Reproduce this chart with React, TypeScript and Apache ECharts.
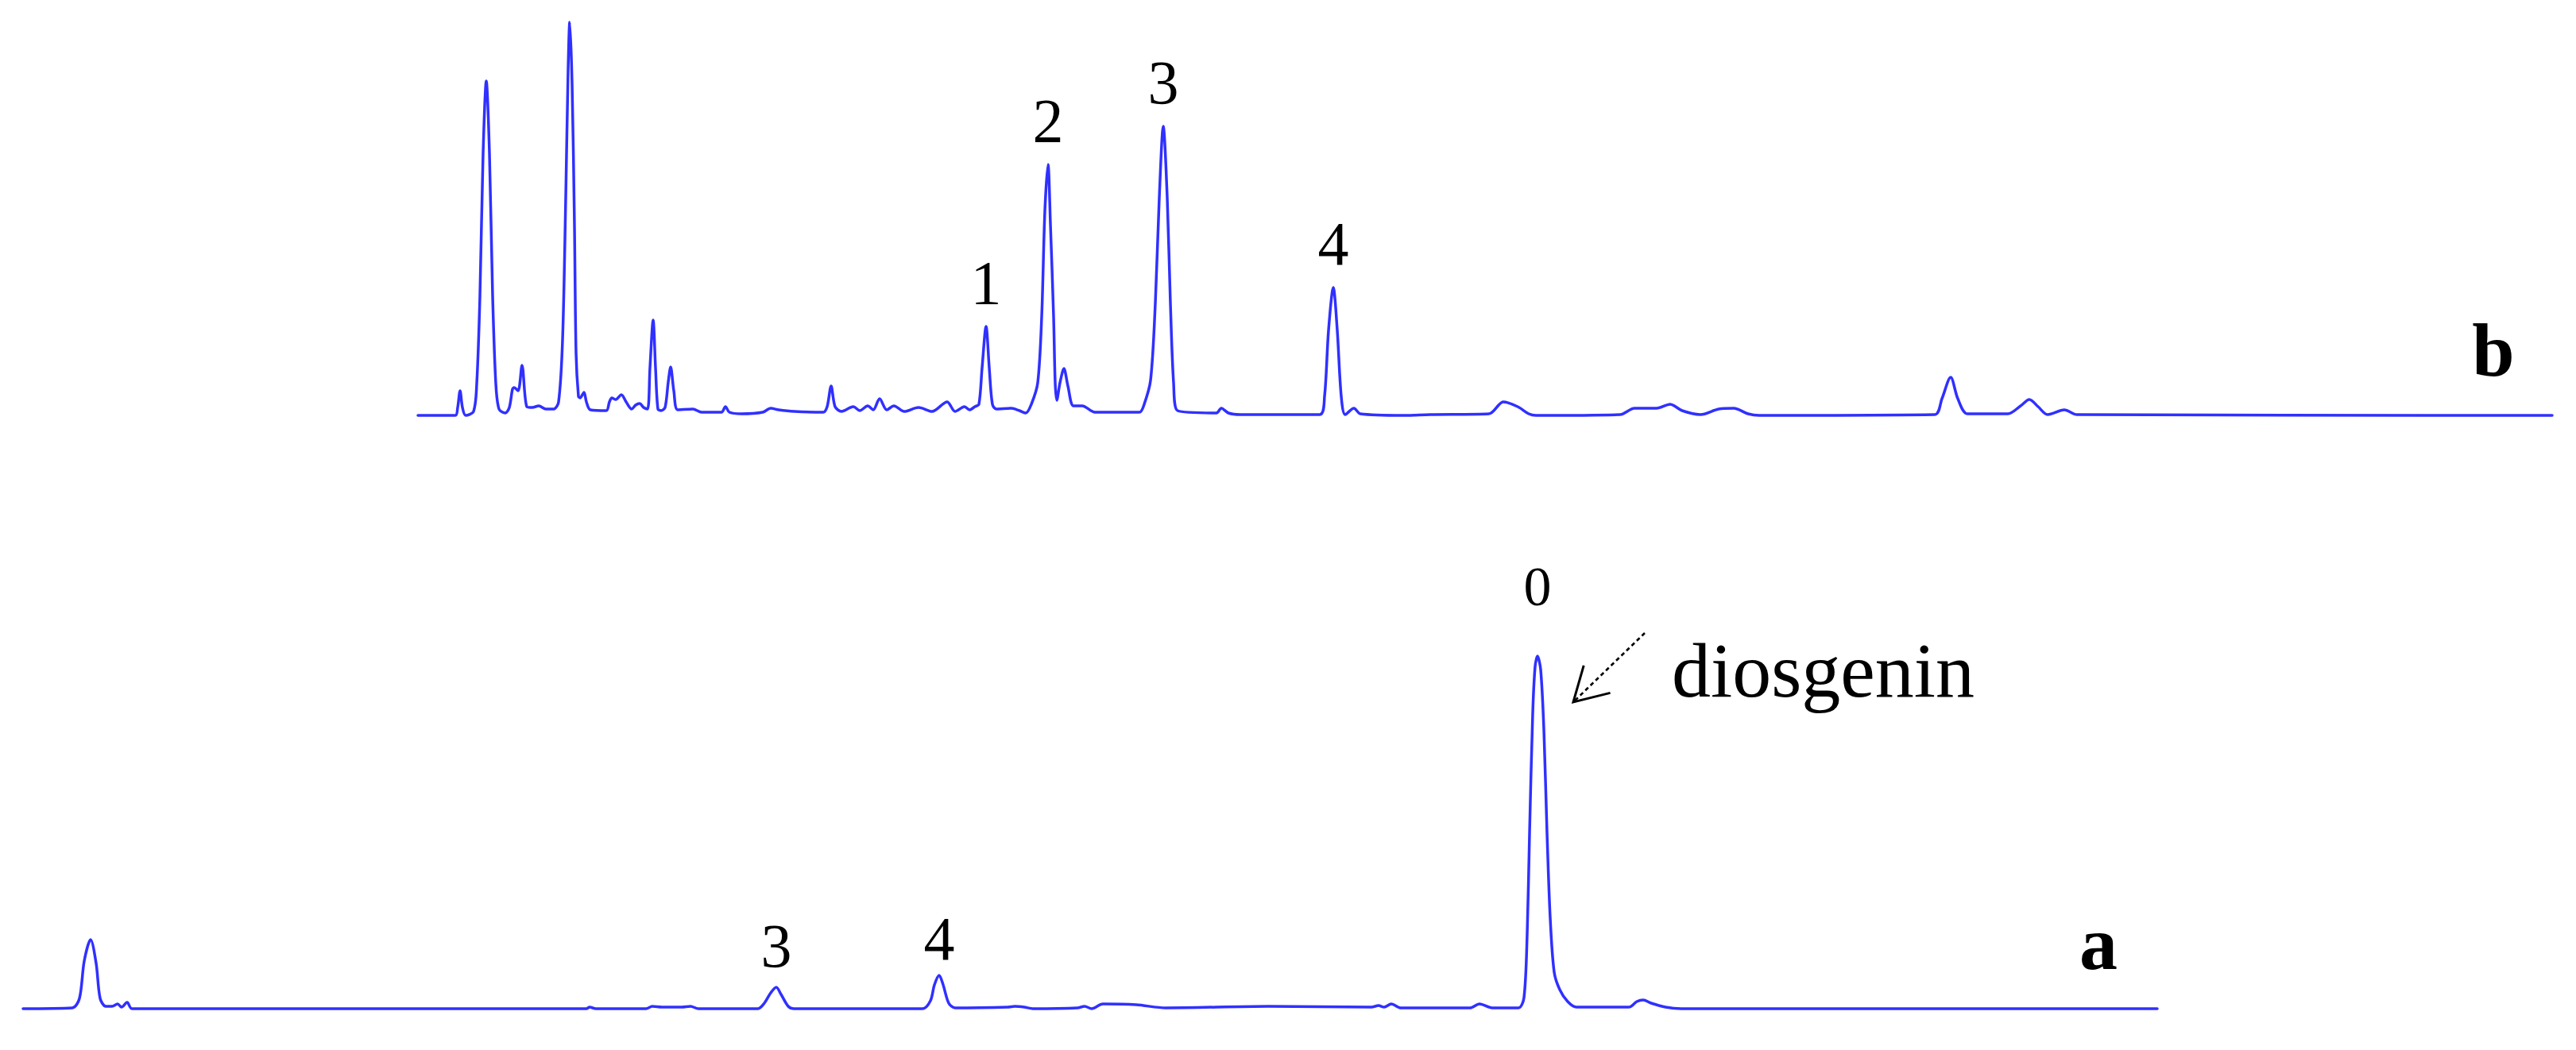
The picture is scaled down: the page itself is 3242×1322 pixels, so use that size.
import React, { useEffect, useRef } from 'react';
import * as echarts from 'echarts';

// Chromatogram b (sample extract): [retention time (min), signal (mAU)]
const traceB: [number, number][] = [
  [0, 0], [0.94, 0], [1.0, 2], [1.06, 6.2], [1.12, 2], [1.2, 0], [1.4, 1], [1.48, 8], [1.56, 30],
  [1.64, 66], [1.72, 84.2], [1.8, 66], [1.88, 30], [1.96, 8], [2.04, 1.6], [2.2, 0.6], [2.3, 2],
  [2.38, 6.6], [2.42, 7], [2.52, 6.2], [2.62, 12.6], [2.74, 2.2], [2.88, 2], [3.04, 2.4], [3.22, 1.6],
  [3.42, 1.6], [3.54, 3.4], [3.64, 19], [3.72, 54.8], [3.78, 87], [3.82, 99], [3.88, 83.4], [3.94, 47.6],
  [3.98, 15.6], [4.04, 4.8], [4.08, 4.4], [4.18, 5.8], [4.24, 3.4], [4.34, 1.4], [4.74, 1.2], [4.82, 3.4],
  [4.88, 4.4], [4.98, 4], [5.12, 5.2], [5.24, 3.4], [5.38, 1.6], [5.48, 2.6], [5.58, 3], [5.68, 2],
  [5.78, 1.6], [5.84, 12], [5.92, 24], [5.98, 12], [6.04, 1.6], [6.12, 1.2], [6.22, 2], [6.3, 8.4],
  [6.36, 12.2], [6.44, 6.2], [6.54, 1.4], [6.92, 1.6], [7.14, 0.8], [7.64, 0.8], [7.74, 2.2], [7.84, 0.8],
  [8.14, 0.4], [8.68, 0.8], [8.88, 1.8], [9.08, 1.4], [9.48, 1], [10.2, 0.8], [10.3, 2.2], [10.4, 7.4],
  [10.5, 2.2], [10.66, 1], [10.96, 2.2], [11.12, 1.2], [11.32, 2.4], [11.46, 1.4], [11.62, 4.2], [11.8, 1.4],
  [11.98, 2.4], [12.24, 1], [12.6, 2], [12.94, 1], [13.32, 3.4], [13.52, 1], [13.76, 2.2], [13.88, 1.4],
  [14.02, 2.2], [14.12, 2.8], [14.2, 12], [14.3, 22.4], [14.38, 12], [14.46, 2.8], [14.56, 1.6],
  [14.94, 1.8], [15.14, 1.2], [15.3, 0.6], [15.44, 2.8], [15.6, 8.2], [15.7, 24.8], [15.78, 51.4],
  [15.86, 63.2], [15.92, 48.2], [16.0, 24.8], [16.04, 8.2], [16.08, 3.8], [16.16, 8.2], [16.26, 11.8],
  [16.36, 7.4], [16.5, 2.4], [16.72, 2.4], [17.04, 0.8], [18.16, 0.8], [18.26, 2.2], [18.44, 8.8],
  [18.56, 28.2], [18.66, 54.8], [18.76, 72.8], [18.86, 54.8], [18.94, 28.2], [19.02, 8.2], [19.12, 1.2],
  [20.1, 0.6], [20.22, 1.8], [20.4, 0.6], [20.7, 0.2], [22.7, 0.2], [22.82, 4.8], [22.92, 21.4],
  [23.04, 32.2], [23.14, 21.4], [23.24, 4.8], [23.34, 0.2], [23.56, 1.8], [23.72, 0.4], [24.78, 0],
  [25.48, 0.2], [26.96, 0.4], [27.32, 3.4], [27.68, 2.2], [27.96, 0.4], [28.14, 0], [30.26, 0.2],
  [30.62, 1.8], [31.18, 1.8], [31.52, 2.8], [31.82, 1.2], [32.28, 0.2], [32.74, 1.6], [33.12, 1.8],
  [33.48, 0.4], [33.76, 0], [38.18, 0.2], [38.36, 4.2], [38.58, 9.6], [38.76, 4.2], [39.0, 0.4],
  [40.02, 0.4], [40.34, 2.4], [40.56, 4], [40.78, 2.2], [41.02, 0.2], [41.44, 1.4], [41.76, 0.2],
  [53.72, 0],
];

// Chromatogram a (diosgenin standard)
const traceA: [number, number][] = [
  [0, 0], [1.24, 0.2], [1.42, 2.6], [1.54, 12], [1.7, 17.4], [1.84, 11.4], [1.94, 2.6], [2.08, 0.6],
  [2.24, 0.6], [2.38, 1.2], [2.48, 0.4], [2.62, 1.6], [2.74, 0], [14.18, 0], [14.26, 0.4], [14.42, 0],
  [15.68, 0], [15.84, 0.6], [16.08, 0.4], [16.58, 0.4], [16.8, 0.6], [17.0, 0], [18.5, 0], [18.66, 1.4],
  [18.82, 4], [18.96, 5.4], [19.08, 3.6], [19.26, 0.6], [19.4, 0], [22.64, 0], [22.84, 2], [22.94, 6],
  [23.06, 8.4], [23.16, 6], [23.3, 1.4], [23.46, 0.2], [24.8, 0.4], [24.96, 0.6], [25.2, 0.4],
  [25.42, 0], [26.54, 0.2], [26.72, 0.6], [26.9, 0], [27.18, 1.2], [28.02, 1], [28.76, 0.2],
  [31.34, 0.6], [33.94, 0.4], [34.12, 0.8], [34.26, 0.4], [34.44, 1.2], [34.68, 0.2], [36.42, 0.2],
  [36.66, 1.2], [36.98, 0.2], [37.64, 0.2], [37.78, 2.8], [37.86, 18.8], [37.92, 44.2], [38.0, 74.4],
  [38.06, 86.2], [38.12, 88.8], [38.2, 85.4], [38.28, 70.4], [38.36, 44.2], [38.44, 22.8], [38.54, 9.2],
  [38.68, 4.8], [38.88, 1.8], [39.1, 0.4], [40.42, 0.4], [40.62, 1.8], [40.78, 2.2], [40.98, 1.4],
  [41.34, 0.4], [41.74, 0], [53.72, 0],
];

// Peak labels: [text, retention time, apex signal]
const peakLabelsB: [string, number, number][] = [
  ['1', 14.3, 22.4], ['2', 15.86, 63.2], ['3', 18.76, 72.8], ['4', 23.04, 32.2],
];
const peakLabelsA: [string, number, number][] = [
  ['3', 18.96, 5.4], ['4', 23.06, 8.4], ['0', 38.12, 88.8],
];
const traceNameB = 'b';
const traceNameA = 'a';
const compoundName = 'diosgenin';
// annotation anchors in data space (trace a)
const arrowTail: [number, number] = [40.82, 94.6];
const arrowTip: [number, number] = [39.02, 77.2];
const compoundTextAnchor: [number, number] = [41.5, 85.2];
const traceNamePos: [number, number] = [52.24, 0];

const T_MAX = 53.72;
const FONT = "'Liberation Serif', 'Times New Roman', Times, serif";
const LINE = '#3030ff';

export default function App() {
  const ref = useRef<HTMLDivElement>(null);
  useEffect(() => {
    document.body.style.margin = '0';
    const chart = echarts.init(ref.current!, undefined, { renderer: 'svg' });

    const labelOffset = (name: string, trace: 'a' | 'b') => {
      if (trace === 'b') return -56;
      if (name === '0') return -88;
      return name === '3' ? -53 : -47;
    };

    const mkMarks = (labels: [string, number, number][], trace: 'a' | 'b', letter: string) => ({
      symbol: 'circle',
      symbolSize: 1,
      silent: true,
      itemStyle: { color: 'rgba(0,0,0,0)' },
      label: {
        show: true,
        position: 'inside',
        color: '#000',
        fontFamily: FONT,
        fontSize: 78,
        formatter: '{b}',
      },
      data: [
        ...labels.map(([n, t, v]) => ({
          name: n,
          coord: [t, v],
          label: { offset: [0, labelOffset(n, trace)], fontSize: n === '0' ? 70 : 78 },
        })),
        {
          name: letter,
          coord: traceNamePos,
          label: { offset: [0, -83], fontSize: 96, fontWeight: 'bold' },
        },
      ],
    });

    const lineSeries = (idx: number, data: [number, number][], labels: [string, number, number][], tr: 'a' | 'b', letter: string) => ({
      type: 'line',
      xAxisIndex: idx,
      yAxisIndex: idx,
      data,
      showSymbol: false,
      smooth: 0.3,
      clip: false,
      lineStyle: { color: LINE, width: 3.5, join: 'round', cap: 'round' },
      markPoint: mkMarks(labels, tr, letter),
    });

    const option: any = {
      animation: false,
      backgroundColor: '#ffffff',
      grid: [
        { left: 526, width: 2686, top: 23, height: 500 },
        { left: 29, width: 2686, top: 770, height: 500 },
      ],
      xAxis: [
        { type: 'value', gridIndex: 0, min: 0, max: T_MAX, show: false },
        { type: 'value', gridIndex: 1, min: 0, max: T_MAX, show: false },
      ],
      yAxis: [
        { type: 'value', gridIndex: 0, min: 0, max: 100, show: false },
        { type: 'value', gridIndex: 1, min: 0, max: 100, show: false },
      ],
      series: [
        lineSeries(0, traceB, peakLabelsB, 'b', traceNameB),
        lineSeries(1, traceA, peakLabelsA, 'a', traceNameA),
      ],
    };
    chart.setOption(option);

    const toPx = (p: [number, number]) => chart.convertToPixel({ xAxisIndex: 1, yAxisIndex: 1 }, p) as number[];
    const tip = toPx(arrowTip);
    const tail = toPx(arrowTail);
    const txt = toPx(compoundTextAnchor);
    const dx = tail[0] - tip[0];
    const dy = tail[1] - tip[1];
    const len = Math.hypot(dx, dy);
    const ux = dx / len;
    const uy = dy / len;
    const armLen = 48;
    const ang = (30 * Math.PI) / 180;
    const rot = (a: number) => [
      tip[0] + armLen * (Math.cos(a) * ux - Math.sin(a) * uy),
      tip[1] + armLen * (Math.sin(a) * ux + Math.cos(a) * uy),
    ];

    chart.setOption({
      graphic: [
        {
          type: 'line',
          shape: { x1: tail[0], y1: tail[1], x2: tip[0], y2: tip[1] },
          style: { stroke: '#000', lineWidth: 2.6, lineDash: [5, 4] },
          silent: true,
        },
        {
          type: 'polyline',
          shape: { points: [rot(ang), tip, rot(-ang)] },
          style: { stroke: '#000', lineWidth: 3, fill: 'none' },
          silent: true,
        },
        {
          type: 'text',
          x: txt[0],
          y: txt[1],
          style: {
            text: compoundName,
            fontSize: 98,
            fontFamily: FONT,
            fill: '#000',
            align: 'left',
            verticalAlign: 'middle',
            textAlign: 'left',
            textVerticalAlign: 'middle',
          },
          silent: true,
        },
      ],
    });

    return () => chart.dispose();
  }, []);

  return <div ref={ref} style={{ width: 3242, height: 1322 }} />;
}
